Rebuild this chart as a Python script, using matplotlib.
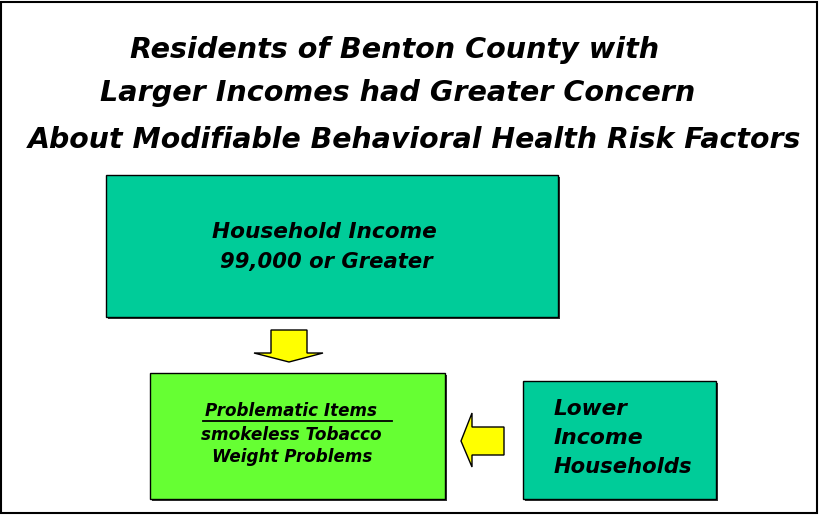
import matplotlib
matplotlib.use("Agg")
import matplotlib.pyplot as plt
from matplotlib.patches import Rectangle, Polygon

title_lines = ["Residents of Benton County with",
               "Larger Incomes had Greater Concern",
               "About Modifiable Behavioral Health Risk Factors"]
top_box_lines = ["Household Income", "99,000 or Greater"]
green_header = "Problematic Items"
green_lines = ["smokeless Tobacco", "Weight Problems"]
right_lines = ["Lower", "Income", "Households"]

TEAL = "#00CC99"
GREEN = "#66FF33"
YELLOW = "#FFFF00"
FONT = "DejaVu Sans"

fig = plt.figure(figsize=(8.2, 5.16), dpi=100)
ax = fig.add_axes([0, 0, 1, 1])
ax.set_xlim(0, 820)
ax.set_ylim(516, 0)
ax.axis("off")
renderer = fig.canvas.get_renderer()


def fit_text(x0, x1, y, s, size):
    """Place bold italic text spanning roughly x0..x1 (pixel layout)."""
    t = ax.text(x0, y, s, ha="left", va="center", fontsize=size,
                fontweight="bold", fontstyle="italic", family=FONT)
    w = t.get_window_extent(renderer).width
    t.set_fontsize(size * (x1 - x0) / w)
    return t


# outer frame
ax.add_patch(Rectangle((1.5, 1.5), 815.5, 511.5, fill=False, ec="black", lw=1.5))

# title
fit_text(130, 660, 50, title_lines[0], 20)
fit_text(100, 695, 93, title_lines[1], 20)
fit_text(28, 800, 140, title_lines[2], 20)


def box(x0, y0, x1, y1, color):
    ax.add_patch(Rectangle((x0 + 2, y0 + 2), x1 - x0, y1 - y0, fc="#333333", ec="none"))
    ax.add_patch(Rectangle((x0, y0), x1 - x0, y1 - y0, fc=color, ec="black", lw=1))


box(106, 175, 558, 317, TEAL)
box(150, 373, 445, 499, GREEN)
box(523, 381, 716, 499, TEAL)

# top box text
fit_text(212, 437, 232, top_box_lines[0], 15)
fit_text(220, 432, 262, top_box_lines[1], 15)

# green box text
fit_text(205, 377, 411, green_header, 11)
ax.plot([203, 392], [421, 421], color="black", lw=1.3)
fit_text(201, 381, 435, green_lines[0], 11)
fit_text(212, 372, 457, green_lines[1], 11)

# right box text
fit_text(554, 628, 409, right_lines[0], 15)
fit_text(554, 644, 438, right_lines[1], 15)
fit_text(554, 693, 467, right_lines[2], 15)

# arrows
down = [(271, 330), (307, 330), (307, 353), (323, 353), (289, 362),
        (254, 353), (271, 353)]
ax.add_patch(Polygon(down, closed=True, fc=YELLOW, ec="black", lw=1))
left = [(504, 427), (504, 455), (472, 455), (472, 467), (461, 441),
        (472, 413), (472, 427)]
ax.add_patch(Polygon(left, closed=True, fc=YELLOW, ec="black", lw=1))

fig.savefig("out.png", dpi=100)
